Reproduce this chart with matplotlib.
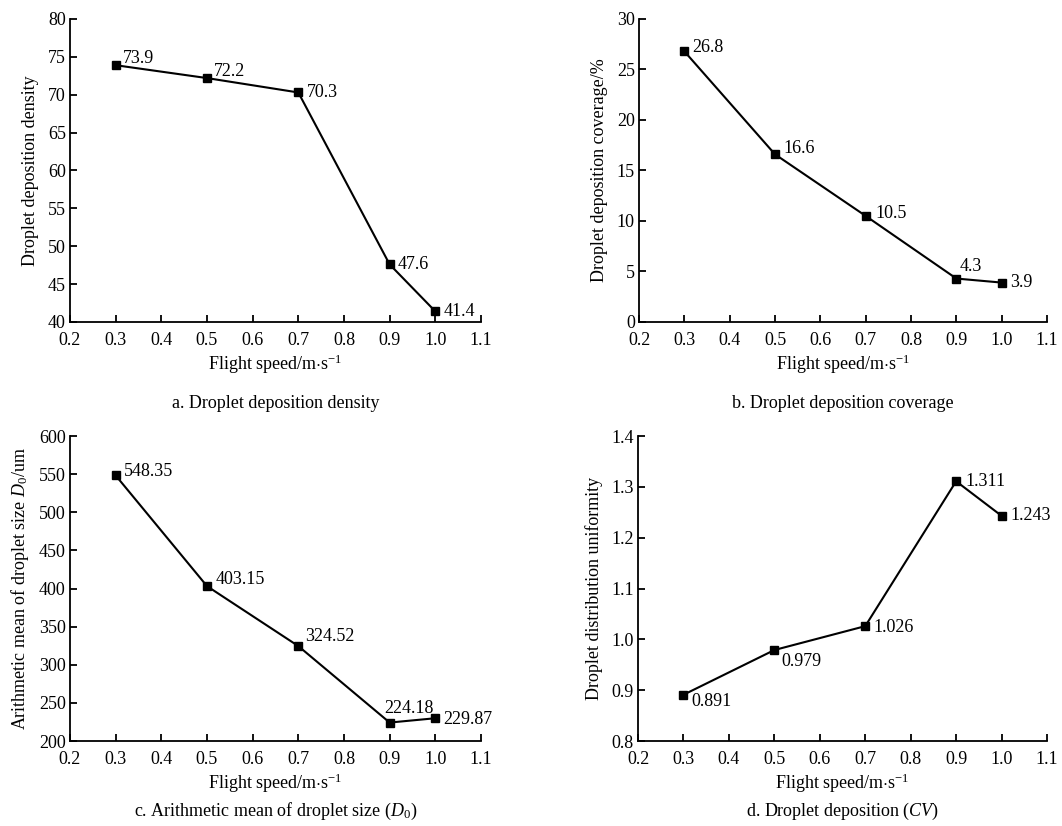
import matplotlib.pyplot as plt

plt.rcParams['font.family'] = ['Liberation Serif', 'DejaVu Serif']
plt.rcParams['mathtext.fontset'] = 'custom'
plt.rcParams['mathtext.rm'] = 'Liberation Serif'
plt.rcParams['mathtext.it'] = 'Liberation Serif:italic'

# Flight speed (m/s)
speed = [0.3, 0.5, 0.7, 0.9, 1.0]

# Measured values per panel
density = [73.9, 72.2, 70.3, 47.6, 41.4]
coverage = [26.8, 16.6, 10.5, 4.3, 3.9]
size_d0 = [548.35, 403.15, 324.52, 224.18, 229.87]
uniformity = [0.891, 0.979, 1.026, 1.311, 1.243]

density_lbl = ['73.9', '72.2', '70.3', '47.6', '41.4']
coverage_lbl = ['26.8', '16.6', '10.5', '4.3', '3.9']
size_lbl = ['548.35', '403.15', '324.52', '224.18', '229.87']
unif_lbl = ['0.891', '0.979', '1.026', '1.311', '1.243']

xticks = [0.2, 0.3, 0.4, 0.5, 0.6, 0.7, 0.8, 0.9, 1.0, 1.1]

fig = plt.figure(figsize=(10.62, 8.26), dpi=100)

panels = [
    # rect, y, labels, ylim, yticks, yfmt, ylabel, caption, caption y, label offsets
    ([0.0659, 0.6102, 0.387, 0.3668], density, density_lbl, (40, 80),
     range(40, 81, 5), '{:.0f}', 'Droplet deposition density',
     'a. Droplet deposition density', 0.511,
     [(5, 5), (5, 5), (6, 0), (6, 0), (6, 0)]),
    ([0.6017, 0.6102, 0.3842, 0.3668], coverage, coverage_lbl, (0, 30),
     range(0, 31, 5), '{:.0f}', 'Droplet deposition coverage/%',
     'b. Droplet deposition coverage', 0.511,
     [(6, 3), (6, 4), (7, 2), (2, 9), (6, 0)]),
    ([0.0659, 0.1029, 0.387, 0.3692], size_d0, size_lbl, (200, 600),
     range(200, 601, 50), '{:.0f}', r'Arithmetic mean of droplet size $\mathit{D}_0$/um',
     r'c. Arithmetic mean of droplet size ($\mathit{D}_0$)', 0.018,
     [(6, 3), (6, 5), (5, 7), (-4, 10), (6, -1)]),
    ([0.6008, 0.1029, 0.3851, 0.3692], uniformity, unif_lbl, (0.8, 1.4),
     [0.8, 0.9, 1.0, 1.1, 1.2, 1.3, 1.4], '{:.1f}', 'Droplet distribution uniformity',
     r'd. Droplet deposition ($\mathit{CV}$)', 0.018,
     [(6, -5), (5, -8), (6, -1), (7, 0), (6, 0)]),
]

for rect, yv, lbls, ylim, yt, yfmt, ylabel, caption, cy, offs in panels:
    ax = fig.add_axes(rect)
    ax.plot(speed, yv, color='black', lw=1.5, marker='s', ms=6)
    for x, y, t, o in zip(speed, yv, lbls, offs):
        ax.annotate(t, (x, y), xytext=o, textcoords='offset points',
                    fontsize=13, ha='left', va='center')
    ax.set_xlim(0.2, 1.1)
    ax.set_ylim(*ylim)
    ax.set_xticks(xticks)
    ax.set_xticklabels(['{:.1f}'.format(v) for v in xticks])
    ax.set_yticks(list(yt))
    ax.set_yticklabels([yfmt.format(v) for v in yt])
    ax.spines['top'].set_visible(False)
    ax.spines['right'].set_visible(False)
    ax.spines['left'].set_linewidth(1.3)
    ax.spines['bottom'].set_linewidth(1.3)
    ax.tick_params(direction='in', length=5, width=1.3, labelsize=13)
    ax.tick_params(axis='x', pad=7)
    ax.tick_params(axis='y', pad=3)
    ax.set_xlabel('Flight speed/m$\\cdot$s$^{-1}$', fontsize=13, labelpad=3)
    ax.set_ylabel(ylabel, fontsize=13, labelpad=6)
    cx = rect[0] + rect[2] / 2
    fig.text(cx, cy, caption, ha='center', va='center', fontsize=13)

fig.savefig('out.png', dpi=100)
